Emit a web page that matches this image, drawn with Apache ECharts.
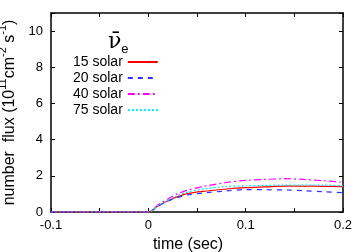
<!DOCTYPE html>
<html><head><meta charset="utf-8">
<script src="https://cdn.jsdelivr.net/npm/echarts@6/dist/echarts.min.js"></script>
<style>html,body{margin:0;padding:0;background:#fff}#c{width:354px;height:252px}</style>
</head><body><div id="c"></div>
<script>
const times = [-0.1, 0, 0.01, 0.02, 0.03, 0.04, 0.06, 0.08, 0.1, 0.12, 0.14, 0.16, 0.18, 0.2];
const names = ['15 solar', '20 solar', '40 solar', '75 solar'];
const solar15 = [0, 0, 0.33, 0.62, 0.85, 1.02, 1.16, 1.27, 1.35, 1.39, 1.43, 1.43, 1.42, 1.40];
const solar20 = [0, 0, 0.33, 0.60, 0.80, 0.94, 1.07, 1.16, 1.24, 1.23, 1.22, 1.18, 1.12, 1.07];
const solar40 = [0, 0, 0.40, 0.72, 1.00, 1.20, 1.45, 1.63, 1.75, 1.80, 1.84, 1.80, 1.73, 1.64];
const solar75 = [0, 0, 0.35, 0.65, 0.90, 1.10, 1.30, 1.41, 1.45, 1.47, 1.49, 1.49, 1.49, 1.44];
const xTickLabels = {'-0.1': '-0.1', '0': '0', '0.1': '0.1', '0.2': '0.2'};
const yTickLabels = ['0', '2', '4', '6', '8', '10'];

const colors = ['#ff0000', '#3030ff', '#ff00ff', '#00e8ff'];
const dashes = ['solid', [5, 5], [7, 3, 2, 3], [2, 2]];
const seriesData = [solar15, solar20, solar40, solar75];

const chart = echarts.init(document.getElementById('c'));
const axisCommon = {
  axisLine: {onZero: false, lineStyle: {color: '#000', width: 1.5}},
  axisTick: {inside: true, length: 4, lineStyle: {color: '#000'}},
  splitLine: {show: false}
};
chart.setOption({
  animation: false,
  textStyle: {fontFamily: 'Liberation Sans'},
  grid: {left: 51, right: 11, top: 13, bottom: 40, outerBoundsMode: 'none', containLabel: false},
  title: {
    left: 103, top: 23,
    text: '{a|ν\u0304}{b|e}',
    textStyle: {rich: {
      a: {fontFamily: 'DejaVu Serif', fontSize: 22, fontWeight: 'normal', color: '#000', lineHeight: 28},
      b: {fontFamily: 'Liberation Sans', fontSize: 13, fontWeight: 'normal', color: '#000', verticalAlign: 'bottom', padding: [7, 0, 0, 0]}
    }}
  },
  legend: {
    orient: 'vertical', left: 68, top: 50, align: 'right',
    itemWidth: 30, itemHeight: 10, itemGap: 2,
    itemStyle: {opacity: 0},
    textStyle: {fontSize: 14, color: '#000', fontFamily: 'Liberation Sans'},
    data: names
  },
  xAxis: [{
    type: 'value', min: -0.1, max: 0.2, interval: 0.05,
    ...axisCommon,
    axisLabel: {color: '#000', fontSize: 13, margin: 7,
      formatter: v => { const k = String(Math.round(v * 100) / 100); return xTickLabels[k] !== undefined ? xTickLabels[k] : ''; }},
    name: 'time (sec)', nameLocation: 'middle', nameGap: 21,
    nameTextStyle: {fontSize: 16, color: '#000', padding: [0, 18, 0, 0]}
  }, {
    type: 'value', position: 'top', min: -0.1, max: 0.2, interval: 0.05,
    ...axisCommon, axisLabel: {show: false}
  }],
  yAxis: [{
    type: 'value', min: 0, max: 11, interval: 2,
    ...axisCommon,
    axisLabel: {color: '#000', fontSize: 13, margin: 8,
      formatter: v => yTickLabels.includes(String(v)) ? String(v) : ''},
    name: '{m|number  flux (10}{s|11}{m|cm}{s|-2}{m| s}{s|-1}{m|)}',
    nameLocation: 'middle', nameGap: 30, nameRotate: 90,
    nameTextStyle: {rich: {
      m: {fontSize: 16, color: '#000', fontFamily: 'Liberation Sans', lineHeight: 20, verticalAlign: 'bottom'},
      s: {fontSize: 11, color: '#000', fontFamily: 'Liberation Sans', verticalAlign: 'top', lineHeight: 20}
    }}
  }, {
    type: 'value', position: 'right', min: 0, max: 11, interval: 2,
    ...axisCommon, axisLabel: {show: false}
  }],
  series: seriesData.map((d, i) => ({
    name: names[i], type: 'line', symbol: 'none', smooth: 0.3,
    xAxisIndex: 0, yAxisIndex: 0,
    data: times.map((t, j) => [t, d[j]]),
    lineStyle: {color: colors[i], width: 1.2, type: dashes[i]},
    itemStyle: {color: colors[i]}
  }))
});
</script></body></html>
